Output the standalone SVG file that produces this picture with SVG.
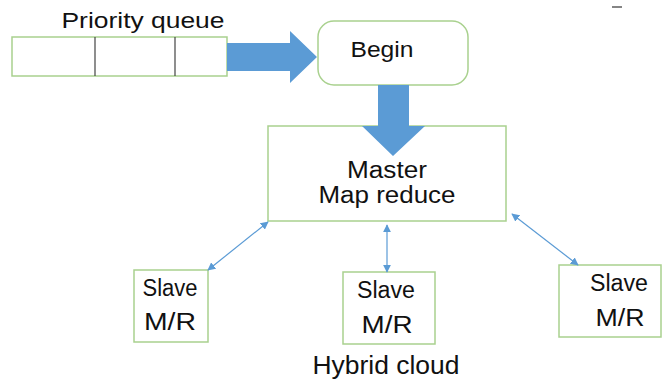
<svg xmlns="http://www.w3.org/2000/svg" width="667" height="380" viewBox="0 0 667 380">
<defs>
<style>
.box{fill:#fff;stroke:#a9d18e;stroke-width:1.5}
.t{font-family:"Liberation Sans",Arial,sans-serif;font-size:23px;fill:#111;text-anchor:middle}
.big{fill:#5b9bd5}
.thin{stroke:#5b9bd5;stroke-width:1.2;fill:none;marker-start:url(#ah);marker-end:url(#ah)}
</style>
<marker id="ah" viewBox="0 0 10 10" refX="9" refY="5" markerWidth="8" markerHeight="8" markerUnits="userSpaceOnUse" orient="auto-start-reverse">
<path d="M0,0 L10,5 L0,10 z" fill="#5b9bd5"/>
</marker>
</defs>
<g id="queue">
<rect class="box" x="12" y="37" width="215" height="39"/>
<line x1="95" y1="37" x2="95" y2="76" stroke="#444" stroke-width="1.2"/>
<line x1="175" y1="37" x2="175" y2="76" stroke="#444" stroke-width="1.2"/>
<text class="t" x="143" y="28" style="font-size:22px" textLength="163" lengthAdjust="spacingAndGlyphs">Priority queue</text>
</g>
<g id="begin">
<rect class="box" x="318" y="21" width="150" height="64" rx="16"/>
<text class="t" x="382" y="57" style="font-size:22px" textLength="63" lengthAdjust="spacingAndGlyphs">Begin</text>
</g>
<g id="master">
<rect class="box" x="268" y="126" width="238" height="95"/>
<text class="t" x="387" y="178" textLength="80" lengthAdjust="spacingAndGlyphs">Master</text>
<text class="t" x="387" y="203" textLength="137" lengthAdjust="spacingAndGlyphs">Map reduce</text>
</g>
<g id="slave1">
<rect class="box" x="134" y="270" width="74" height="72"/>
<text class="t" x="170" y="296" textLength="55" lengthAdjust="spacingAndGlyphs">Slave</text>
<text class="t" x="170" y="330" textLength="52" lengthAdjust="spacingAndGlyphs">M/R</text>
</g>
<g id="slave2">
<rect class="box" x="343" y="272" width="92" height="72"/>
<text class="t" x="386" y="298" textLength="58" lengthAdjust="spacingAndGlyphs">Slave</text>
<text class="t" x="387" y="333" textLength="51" lengthAdjust="spacingAndGlyphs">M/R</text>
</g>
<g id="slave3">
<rect class="box" x="559" y="265" width="102" height="72"/>
<text class="t" x="619" y="291" textLength="58" lengthAdjust="spacingAndGlyphs">Slave</text>
<text class="t" x="620" y="326" textLength="49" lengthAdjust="spacingAndGlyphs">M/R</text>
</g>
<g id="label">
<text class="t" x="386" y="374" style="font-size:25px" textLength="147" lengthAdjust="spacingAndGlyphs">Hybrid cloud</text>
</g>
<g id="connectors">
<path class="big" d="M227,43 L290,43 L290,31 L317,57 L290,83 L290,71 L227,71 z"/>
<path class="big" d="M378,85 L409,85 L409,126 L425,126 L393,156 L362,126 L378,126 z"/>
<line class="thin" x1="208" y1="270" x2="268" y2="222"/>
<line class="thin" x1="387" y1="225" x2="387" y2="272"/>
<line class="thin" x1="512" y1="214" x2="578" y2="265"/>
<line x1="612" y1="7" x2="622" y2="7" stroke="#333" stroke-width="1.2"/>
</g>
</svg>
